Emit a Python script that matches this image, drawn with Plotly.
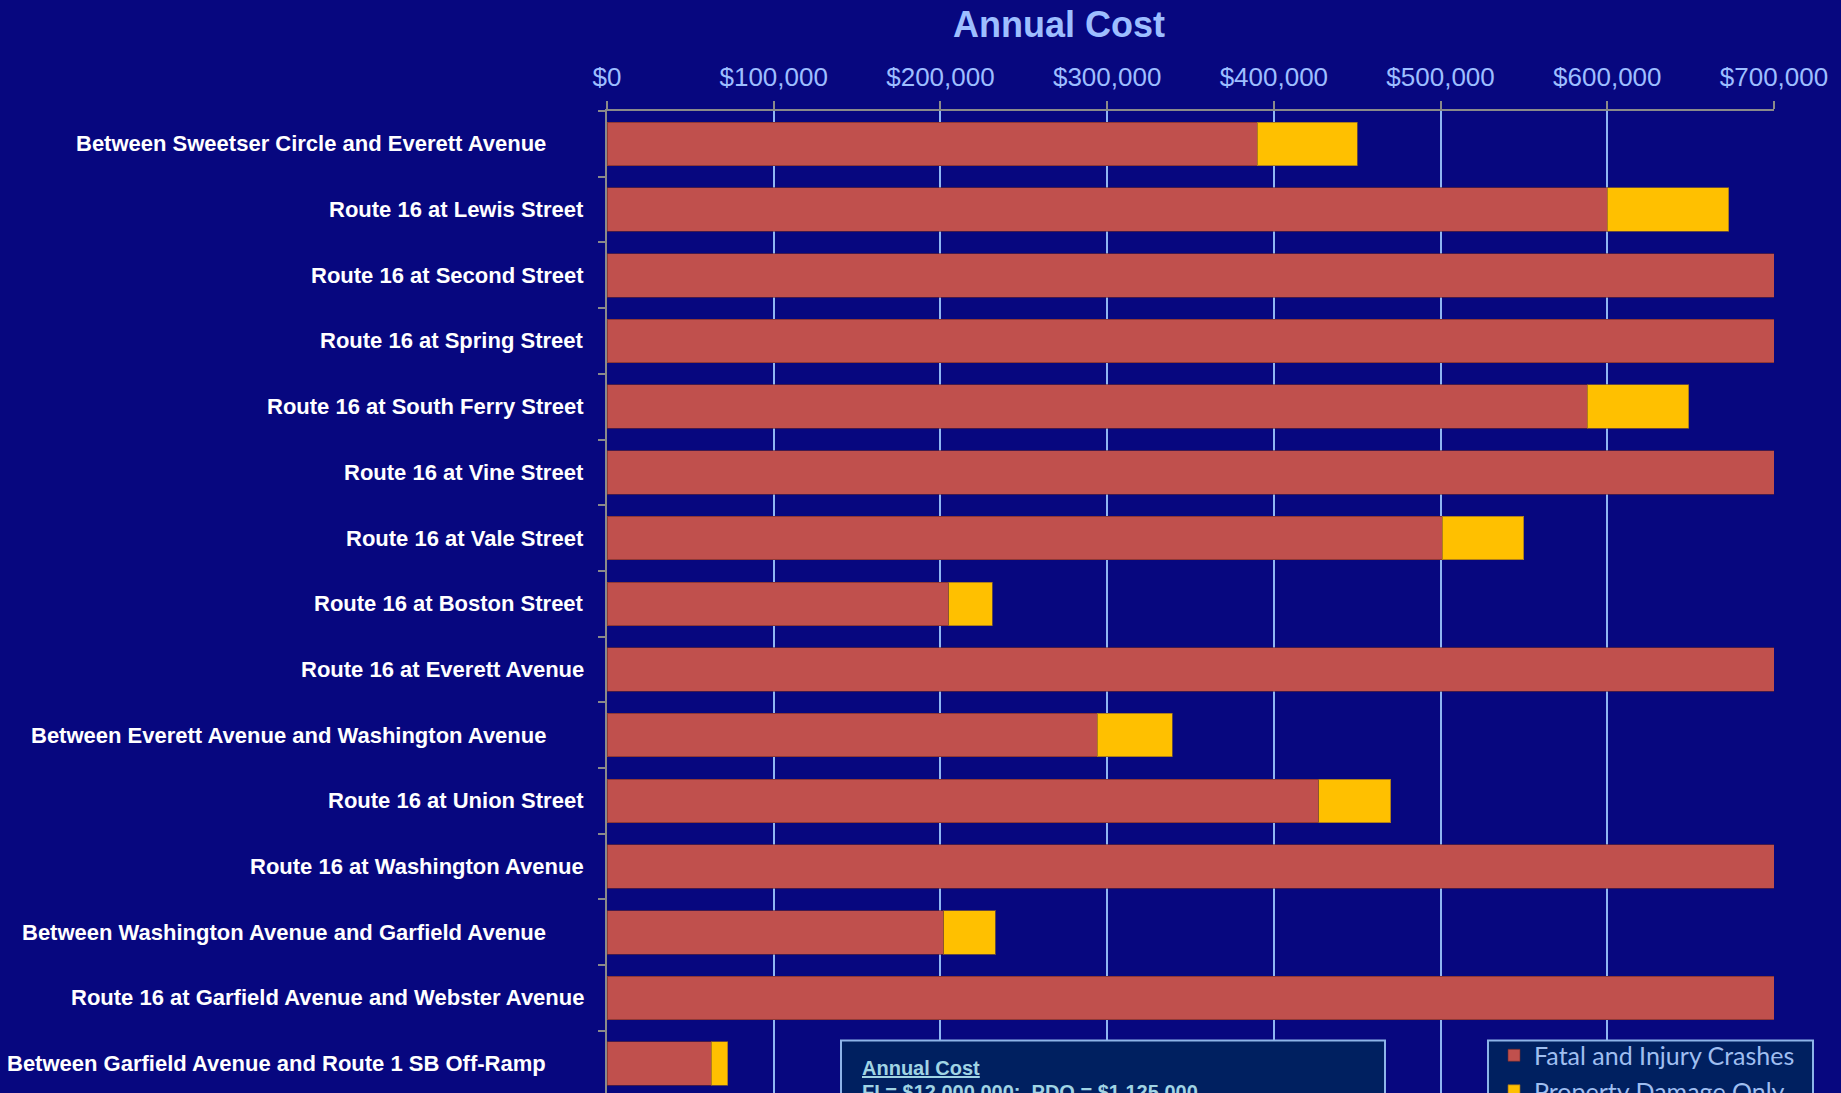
import plotly.graph_objects as go

# Locations along the corridor, top to bottom
locations = [
    "Between Sweetser Circle and Everett Avenue",
    "Route 16 at Lewis Street",
    "Route 16 at Second Street",
    "Route 16 at Spring Street",
    "Route 16 at South Ferry Street",
    "Route 16 at Vine Street",
    "Route 16 at Vale Street",
    "Route 16 at Boston Street",
    "Route 16 at Everett Avenue",
    "Between Everett Avenue and Washington Avenue",
    "Route 16 at Union Street",
    "Route 16 at Washington Avenue",
    "Between Washington Avenue and Garfield Avenue",
    "Route 16 at Garfield Avenue and Webster Avenue",
    "Between Garfield Avenue and Route 1 SB Off-Ramp",
]

# Annual cost by crash type (USD)
fatal_injury = [390000, 600000, 1200000, 960000, 588000, 840000, 501000, 205000,
                1080000, 294000, 427000, 1320000, 202000, 900000, 62500]
property_damage = [60000, 73000, 80000, 70000, 61000, 75000, 49000, 26000,
                   90000, 45000, 43000, 95000, 31000, 85000, 10000]

x_ticks = [0, 100000, 200000, 300000, 400000, 500000, 600000, 700000]
x_tick_labels = ["$0", "$100,000", "$200,000", "$300,000", "$400,000",
                 "$500,000", "$600,000", "$700,000"]

BG = "#07077F"
BOX_FILL = "#002060"
BOX_LINE = "#8DB4E8"
RED = "#C0504D"
YELLOW = "#FFC000"
LIGHT = "#9DBEFF"
SANS = "Liberation Sans, Arial, sans-serif"

W, H = 1841, 1093
L, R, T, B = 607, 67, 111, 0
plot_w = W - L - R
plot_h = H - T - B
band = 65.7


def px_x(x):
    return (x - L) / plot_w


def px_y(y):
    return (H - B - y) / plot_h


fig = go.Figure()
fig.add_trace(go.Bar(
    y=locations, x=fatal_injury, orientation="h", name="Fatal and Injury Crashes",
    marker=dict(color=RED, line=dict(color="rgba(110,40,40,0.6)", width=1)),
))
fig.add_trace(go.Bar(
    y=locations, x=property_damage, orientation="h", name="Property Damage Only",
    marker=dict(color=YELLOW, line=dict(color="rgba(140,100,40,0.7)", width=1)),
))

# Location labels on the left
annotations = []
for name in locations:
    shift = -59 if name.startswith("Between") else -21
    annotations.append(dict(
        x=0, xref="paper", y=name, yref="y", xanchor="right", yanchor="middle",
        xshift=shift, text=name, showarrow=False,
        font=dict(family=SANS, size=22, color="white", weight="bold"),
    ))

# Text box with unit costs
annotations.append(dict(
    x=px_x(860), xref="paper", y=px_y(1068), yref="paper", xanchor="left",
    yanchor="middle", text="<u>Annual Cost</u>", showarrow=False,
    font=dict(family=SANS, size=20, color="#A0D4E4", weight="bold"),
))
annotations.append(dict(
    x=px_x(860), xref="paper", y=px_y(1092), yref="paper", xanchor="left",
    yanchor="middle", text="FI = $12,000,000;  PDO = $1,125,000", showarrow=False,
    font=dict(family=SANS, size=20, color="#A0D4E4", weight="bold"),
))

shapes = [
    dict(type="rect", xref="paper", yref="paper", x0=px_x(841), x1=px_x(1385),
         y0=px_y(1110), y1=px_y(1040.5), fillcolor=BOX_FILL,
         line=dict(color=BOX_LINE, width=2), layer="above"),
    dict(type="rect", xref="paper", yref="paper", x0=px_x(1488), x1=px_x(1813),
         y0=px_y(1110), y1=px_y(1040.5), fillcolor=BOX_FILL,
         line=dict(color=BOX_LINE, width=2), layer="above"),
]

fig.update_layout(
    width=W, height=H,
    margin=dict(l=L, r=R, t=T, b=B, pad=0, autoexpand=False),
    paper_bgcolor=BG, plot_bgcolor=BG,
    barmode="stack", bargap=0.338,
    title=dict(text="<b>Annual Cost</b>", x=1059 / W, xanchor="center",
               y=1 - 24.5 / H, yanchor="middle", yref="container",
               font=dict(family=SANS, size=36, color=LIGHT)),
    xaxis=dict(
        side="top", range=[0, 700000], tickvals=x_ticks, ticktext=x_tick_labels,
        showgrid=True, gridcolor="#8FB6F2", gridwidth=2,
        showline=True, linecolor="#8A8A8A", linewidth=2,
        ticks="outside", ticklen=8, tickwidth=2, tickcolor="#8A8A8A",
        ticklabelstandoff=5,
        tickfont=dict(family=SANS, size=26, color=LIGHT),
        zeroline=False, fixedrange=True,
    ),
    yaxis=dict(
        type="category", categoryorder="array", categoryarray=locations,
        range=[plot_h / band - 0.5, -0.5], showticklabels=False,
        showgrid=False, zeroline=False,
        showline=True, linecolor="#8A8A8A", linewidth=2,
        ticks="outside", tickson="boundaries", ticklen=7, tickwidth=2,
        tickcolor="#8A8A8A", fixedrange=True,
    ),
    showlegend=True,
    legend=dict(
        x=px_x(1494), xanchor="left", y=px_y(1032.5), yanchor="top",
        bgcolor="rgba(0,0,0,0)", borderwidth=0, traceorder="normal",
        font=dict(family="Lato, Calibri, sans-serif", size=25, color="#9FBEF0"),
        tracegroupgap=0,
    ),
    annotations=annotations,
    shapes=shapes,
)

fig.write_html("out.html")
